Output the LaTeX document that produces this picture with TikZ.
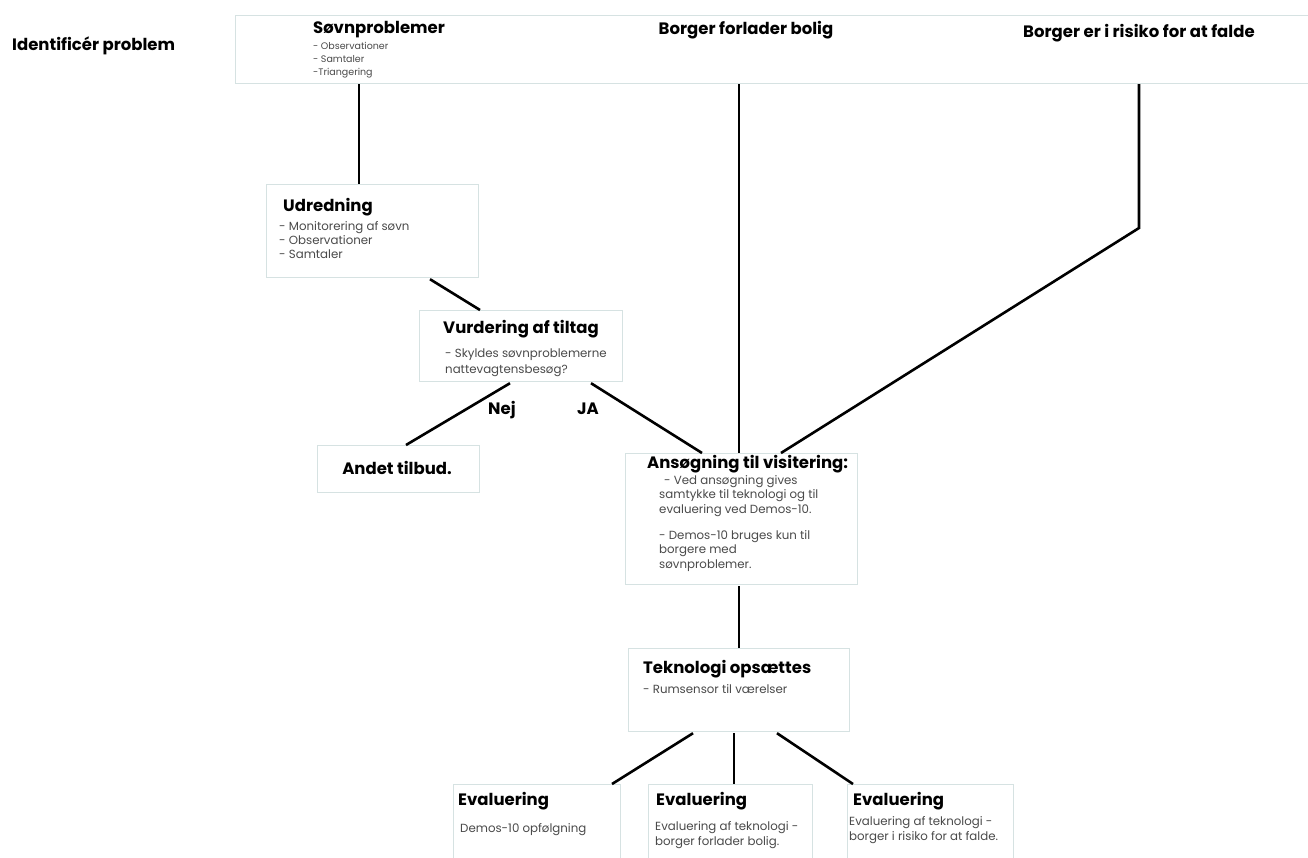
\documentclass[tikz,border=0pt]{standalone}
\usepackage{fontspec}
\setmainfont{Poppins}
\usetikzlibrary{calc}
\definecolor{boxline}{HTML}{D6E2E2}
\definecolor{bodytxt}{HTML}{4A4A4A}
\tikzset{
  box/.style={draw=boxline, line width=1.2pt, fill=white, inner sep=0pt, anchor=north west},
  conn/.style={line width=2.6pt, black},
  head/.style={font=\bfseries\fontsize{16.5}{18}\selectfont, anchor=base west, inner sep=0pt, text=black},
  body/.style={font=\fontsize{11.8}{14.5}\selectfont, anchor=base west, inner sep=0pt, text=bodytxt, align=left},
  small/.style={font=\fontsize{9.5}{13}\selectfont, anchor=base west, inner sep=0pt, text=bodytxt, align=left},
}
\begin{document}
\begin{tikzpicture}[x=1pt,y=-1pt]
\useasboundingbox (0,0) rectangle (1308,857);
% boxes
\node[box, minimum width=1090, minimum height=68] (top) at (235,15) {};
\node[box, minimum width=212, minimum height=93] (udr) at (266,184) {};
\node[box, minimum width=203, minimum height=71] (vur) at (419,310) {};
\node[box, minimum width=162, minimum height=47] (and) at (317,445) {};
\node[box, minimum width=232, minimum height=131] (ans) at (625,453) {};
\node[box, minimum width=221, minimum height=83] (tek) at (628,648) {};
\node[box, minimum width=167, minimum height=90] (ev1) at (453,784) {};
\node[box, minimum width=164, minimum height=90] (ev2) at (648,784) {};
\node[box, minimum width=166, minimum height=90] (ev3) at (847,784) {};
\coordinate (knee) at (1139,228);
% texts (multi-line blocks are placed by the baseline of their last line)
\node[head] (idp) at (12,50) {Identificér problem};
\node[head] (sov) at (313,33) {Søvnproblemer};
\node[small] (sovt) at (313,75) {- Observationer\\- Samtaler\\-Triangering};
\node[head, anchor=base] (bor) at (746,34) {Borger forlader bolig};
\node[head] (ris) at (1023,37) {Borger er i risiko for at falde};
\node[head] (udrh) at (283,211) {Udredning};
\node[body, font=\fontsize{11.8}{14}\selectfont] (udrt) at (279,258) {- Monitorering af søvn\\- Observationer\\- Samtaler};
\node[head] (vurh) at (443,333) {Vurdering af tiltag};
\node[body, font=\fontsize{11.8}{16}\selectfont] (vurt) at (445,373) {- Skyldes søvnproblemerne\\nattevagtensbesøg?};
\node[head, anchor=base] (andh) at (397,474) {Andet tilbud.};
\node[head] (ansh) at (647,468) {Ansøgning til visitering:};
\node[body] (anst) at (659,568) {\hspace*{5pt}- Ved ansøgning gives\\samtykke til teknologi og til\\evaluering ved Demos-10.\\[11.5pt]- Demos-10 bruges kun til\\borgere med\\søvnproblemer.};
\node[head] (tekh) at (643,673) {Teknologi opsættes};
\node[body] (tekt) at (643,693) {- Rumsensor til værelser};
\node[head] (ev1h) at (458,805) {Evaluering};
\node[body] (ev1t) at (460,832) {Demos-10 opfølgning};
\node[head] (ev2h) at (656,805) {Evaluering};
\node[body] (ev2t) at (655,845) {Evaluering af teknologi -\\borger forlader bolig.};
\node[head] (ev3h) at (853,805) {Evaluering};
\node[body] (ev3t) at (849,840) {Evaluering af teknologi -\\borger i risiko for at falde.};
\node[head] (nej) at (488,414) {Nej};
\node[head] (ja) at (577,414) {JA};
% connectors
\draw[conn] ($(top.south west)+(124,0)$) -- ($(udr.north west)+(93,0)$);
\draw[conn] ($(top.south west)+(504,0)$) -- ($(ans.north west)+(114,0)$);
\draw[conn] ($(top.south west)+(904,0)$) -- (knee) -- ($(ans.north west)+(156,0)$);
\draw[conn] ($(udr.south west)+(164,1)$) -- ($(vur.north west)+(61,0)$);
\draw[conn] ($(vur.south west)+(91,1)$) -- ($(and.north west)+(89,0)$);
\draw[conn] ($(vur.south west)+(172,1)$) -- ($(ans.north west)+(77,0)$);
\draw[conn] ($(ans.south west)+(114,1)$) -- ($(tek.north west)+(111,0)$);
\draw[conn] ($(tek.south west)+(65,1)$) -- ($(ev1.north west)+(159,0)$);
\draw[conn] ($(tek.south west)+(106,1)$) -- ($(ev2.north west)+(86,0)$);
\draw[conn] ($(tek.south west)+(149,1)$) -- ($(ev3.north west)+(6,0)$);
\end{tikzpicture}
\end{document}
